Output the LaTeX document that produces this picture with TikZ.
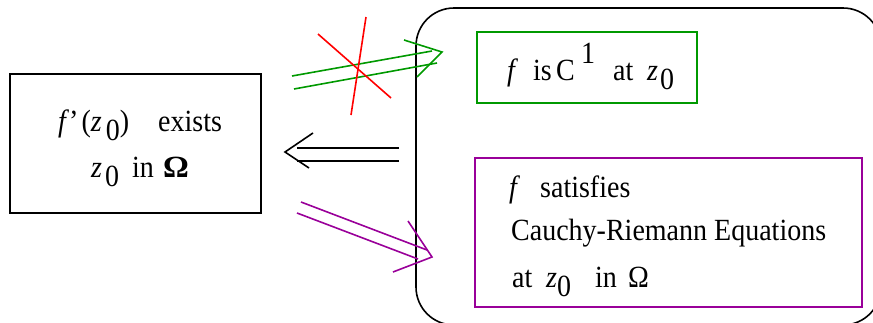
\documentclass[tikz,border=0pt]{standalone}
\usepackage{graphicx}
\usepackage{fontspec}
\setmainfont{Liberation Serif}
\definecolor{cgreen}{RGB}{0,153,0}
\definecolor{cpurple}{RGB}{153,0,153}
\definecolor{cred}{RGB}{255,0,0}
\newcommand\zo[1]{\textit{z}\hspace{#1}\raisebox{-9pt}{0}}
\newcommand\vst[1]{\scalebox{1}[1.1]{#1}}
\begin{document}
\begin{tikzpicture}[x=1pt,y=-1pt,
  box/.style={draw, line width=1.5pt, inner sep=0pt},
  conn/.style={line width=1.6pt},
  txt/.style={anchor=base west, inner sep=0pt, font=\fontsize{28}{34}\selectfont}]
\useasboundingbox (0,0) rectangle (873,322);
\clip (0,0) rectangle (873,322);
% big rounded region
\draw[line width=1.6pt, rounded corners=38pt] (416,8) rectangle (881,325);
% boxes
\node[box, minimum width=251pt, minimum height=139pt] (L) at (135.5,143.5) {};
\node[box, draw=cgreen, minimum width=220pt, minimum height=71pt] (G) at (587,67.5) {};
\node[box, draw=cpurple, minimum width=387pt, minimum height=149pt] (P) at (668.5,232.5) {};
% left box text
\node[txt] (l1a) at (58,131) {\vst{\textit{f}’\hspace{3pt}(\zo{4pt})}};
\node[txt] (l1b) at (158,131) {\vst{exists}};
\node[txt] (l2a) at (91,177) {\vst{\zo{3pt}}};
\node[txt] (l2b) at (132,177) {\vst{in}};
\node[txt] (l2c) at (163,177) {\vst{\scalebox{1.15}[1]{\textbf{Ω}}}};
% green box text
\node[txt] (g1) at (507,80) {\vst{\textit{f}}};
\node[txt] (g2) at (533,80) {\vst{is}};
\node[txt] (g3) at (556,80) {\vst{C}};
\node[txt] (g4) at (581,63) {\vst{1}};
\node[txt] (g5) at (613,80) {\vst{at}};
\node[txt] (g6) at (647,80) {\vst{\zo{2pt}}};
% purple box text
\node[txt] (p1a) at (509,197) {\vst{\textit{f}}};
\node[txt] (p1b) at (540,197) {\vst{satisfies}};
\node[txt] (p2) at (511,240) {\vst{Cauchy-Riemann Equations}};
\node[txt] (p3a) at (512,287) {\vst{at}};
\node[txt] (p3b) at (546,287) {\vst{\zo{0pt}}};
\node[txt] (p3c) at (595,287) {\vst{in}};
\node[txt] (p3d) at (628,287) {\vst{Ω}};
% green implication
\coordinate (ga1) at (292,76); \coordinate (ga2) at (432,51);
\coordinate (gb1) at (294,89); \coordinate (gb2) at (437,63);
\coordinate (gh1) at (404,40); \coordinate (gt) at (442,52); \coordinate (gh2) at (417,77);
\draw[conn, cgreen] (ga1) -- (ga2);
\draw[conn, cgreen] (gb1) -- (gb2);
\draw[conn, cgreen] (gh1) -- (gt) -- (gh2);
% red cross
\coordinate (r1) at (318,34); \coordinate (r2) at (391,98);
\coordinate (r3) at (366,17); \coordinate (r4) at (351,115);
\draw[conn, cred] (r1) -- (r2);
\draw[conn, cred] (r3) -- (r4);
% black implication (leftwards)
\coordinate (ka1) at (399,148); \coordinate (ka2) at (297,148);
\coordinate (kb1) at (399,161); \coordinate (kb2) at (297,161);
\coordinate (kh1) at (313,133); \coordinate (kt) at (285,152); \coordinate (kh2) at (309,168);
\draw[conn] (ka1) -- (ka2);
\draw[conn] (kb1) -- (kb2);
\draw[conn] (kh1) -- (kt) -- (kh2);
% purple implication
\coordinate (pa1) at (301,202); \coordinate (pa2) at (427,250);
\coordinate (pb1) at (297,213); \coordinate (pb2) at (418,259);
\coordinate (ph1) at (408,221); \coordinate (pt) at (432,257); \coordinate (ph2) at (393,272);
\draw[conn, cpurple] (pa1) -- (pa2);
\draw[conn, cpurple] (pb1) -- (pb2);
\draw[conn, cpurple] (ph1) -- (pt) -- (ph2);
\end{tikzpicture}
\end{document}
